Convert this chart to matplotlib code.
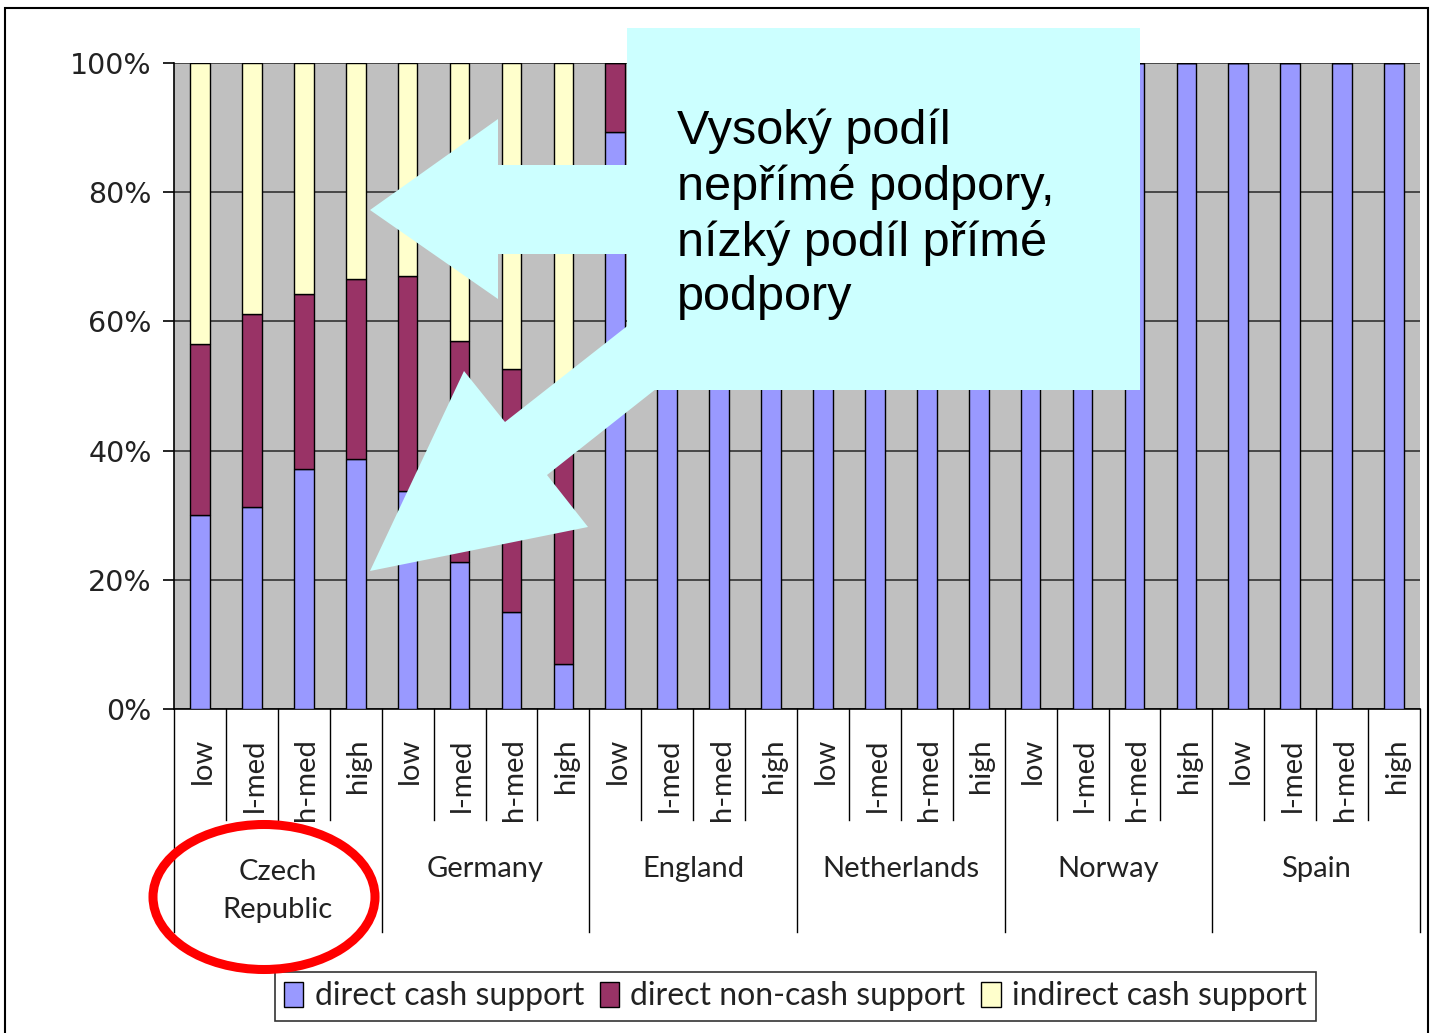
import matplotlib
matplotlib.use("Agg")
import matplotlib.pyplot as plt
from matplotlib.patches import Polygon, Rectangle, Ellipse, Patch
import matplotlib.transforms as mtransforms
import numpy as np

# ---------------- data ----------------
countries = ["Czech\nRepublic", "Germany", "England", "Netherlands", "Norway", "Spain"]
levels = ["low", "l-med", "h-med", "high"]
series_names = ["direct cash support", "direct non-cash support", "indirect cash support"]

direct_cash = [30.0, 31.2, 37.2, 38.7,
               33.7, 22.8, 15.0, 6.9,
               89.3, 100, 100, 100,
               100, 100, 100, 100,
               100, 100, 100, 100,
               100, 100, 100, 100]
direct_noncash = [26.5, 30.0, 27.1, 27.9,
                  33.4, 34.2, 37.6, 41.1,
                  10.7, 0, 0, 0,
                  0, 0, 0, 0,
                  0, 0, 0, 0,
                  0, 0, 0, 0]
indirect_cash = [43.5, 38.8, 35.7, 33.4,
                 32.9, 43.0, 47.4, 52.0,
                 0, 0, 0, 0,
                 0, 0, 0, 0,
                 0, 0, 0, 0,
                 0, 0, 0, 0]
y_ticks = [0, 20, 40, 60, 80, 100]

annotation_text = "Vysoký podíl\nnepřímé podpory,\nnízký podíl přímé\npodpory"

# ---------------- style ----------------
W, H = 1431, 1033
C_CASH = "#9999FF"
C_NONCASH = "#993366"
C_IND = "#FFFFCC"
C_BG = "#C0C0C0"
C_CYAN = "#CCFFFF"
CAT_FONT = "Lato"

def fp(x, y):
    return (x / W, 1 - y / H)

fig = plt.figure(figsize=(W / 100, H / 100), dpi=100)
fig.patch.set_facecolor("white")

# outer frame
fig.patches.append(Rectangle(fp(5, 1040), (1428 - 5) / W, (1040 - 8) / H,
                             transform=fig.transFigure, fill=False,
                             edgecolor="black", linewidth=1.5, zorder=0))

ax = fig.add_axes([174 / W, 1 - 709 / H, (1420 - 174) / W, (709 - 63) / H])
ax.set_facecolor(C_BG)

n = len(direct_cash)
x = np.arange(n)
bw = 0.38
cash = np.array(direct_cash)
nonc = np.array(direct_noncash)
ind = np.array(indirect_cash)
ax.bar(x, cash, bw, color=C_CASH, edgecolor="black", linewidth=1.0, zorder=3)
ax.bar(x, nonc, bw, bottom=cash, color=C_NONCASH, edgecolor="black", linewidth=1.0, zorder=3)
ax.bar(x, ind, bw, bottom=cash + nonc, color=C_IND, edgecolor="black", linewidth=1.0, zorder=3)

ax.set_xlim(-0.5, n - 0.5)
ax.set_ylim(0, 100)
ax.set_yticks(y_ticks)
ax.set_yticklabels([f"{v}%" for v in y_ticks], fontsize=20.5, family="DejaVu Sans", color="#222222")
ax.tick_params(axis="y", direction="out", length=8, width=1.2, pad=8)
ax.set_xticks([])
ax.yaxis.grid(True, color="#333333", linewidth=1.2, zorder=1)
ax.set_axisbelow(True)
for s in ["top", "right"]:
    ax.spines[s].set_visible(False)
ax.spines["left"].set_linewidth(1.2)
ax.spines["bottom"].set_linewidth(1.2)

# multi-level category axis
trans = mtransforms.blended_transform_factory(ax.transData, ax.transAxes)
ng = len(levels)
for i in range(n):
    ax.text(x[i] + 0.05, -0.045, levels[i % ng], rotation=90, ha="center", va="top",
            fontsize=21, family=CAT_FONT, color="#222222", transform=trans)
for b in range(n + 1):
    xb = b - 0.5
    depth = -0.345 if b % ng == 0 else -0.172
    ax.plot([xb, xb], [0, depth], color="black", linewidth=1.0, transform=trans, clip_on=False)
for g, c in enumerate(countries):
    xc = g * ng + (ng - 1) / 2
    yc = -0.282 if "\n" in c else -0.248
    ax.text(xc, yc, c, ha="center", va="center", fontsize=21, family=CAT_FONT,
            color="#222222", linespacing=1.6, transform=trans)

# legend
handles = [Patch(facecolor=c, edgecolor="black", linewidth=1.0) for c in (C_CASH, C_NONCASH, C_IND)]
leg = fig.legend(handles, series_names, loc="center", bbox_to_anchor=fp(795.5, 996.5),
                 ncol=3, frameon=True, fancybox=False, edgecolor="black",
                 prop={"family": CAT_FONT, "size": 23}, handlelength=0.6, handleheight=0.8,
                 handletextpad=0.35, columnspacing=0.5, borderpad=0.3, borderaxespad=0)
leg.get_frame().set_linewidth(1.2)
for t in leg.get_texts():
    t.set_color("#222222")

# annotation overlay: cyan box and arrows
def poly(pts, **kw):
    p = Polygon([fp(a, b) for a, b in pts], closed=True, transform=fig.transFigure, **kw)
    fig.patches.append(p)

poly([(627, 28), (1140, 28), (1140, 390), (627, 390)], facecolor=C_CYAN, edgecolor="none", zorder=5)
# left arrow
poly([(370, 210), (498, 119), (498, 165), (640, 165), (640, 254), (498, 254), (498, 299)],
     facecolor=C_CYAN, edgecolor="none", zorder=5)
# diagonal arrow
poly([(370, 571), (464, 371), (505, 422), (640, 316), (680, 370), (547, 475), (588, 527)],
     facecolor=C_CYAN, edgecolor="none", zorder=5)

fig.text(*fp(677, 109), annotation_text, ha="left", va="top", fontsize=35,
         family="Liberation Sans", linespacing=1.27, zorder=6)

# red ellipse
fig.patches.append(Ellipse(fp(264, 897), 222 / W, 145 / H, transform=fig.transFigure,
                           fill=False, edgecolor="#FF0000", linewidth=6.5, zorder=7))

fig.savefig("out.png", dpi=100)
